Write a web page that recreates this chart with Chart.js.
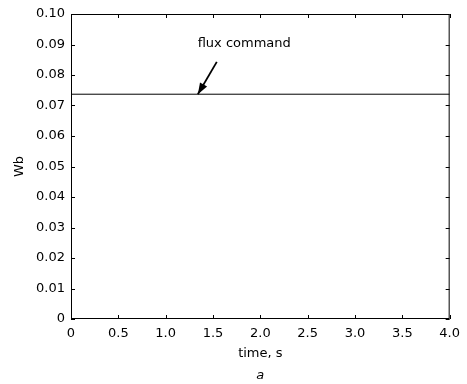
<!DOCTYPE html>
<html><head><meta charset="utf-8">
<script src="https://cdn.jsdelivr.net/npm/chart.js@4/dist/chart.umd.min.js"></script>
<style>html,body{margin:0;padding:0;background:#fff}#wrap{width:467px;height:384px}</style>
</head><body><div id="wrap"><canvas id="c" width="467" height="384"></canvas></div>
<script>
const timeS = [0, 4];
const fluxWb = [0.0737, 0.0737];
const xTicks = [0, 0.5, 1.0, 1.5, 2.0, 2.5, 3.0, 3.5, 4.0];
const yTicks = [0, 0.01, 0.02, 0.03, 0.04, 0.05, 0.06, 0.07, 0.08, 0.09, 0.10];
const annText = "flux command";
const annTextPos = [1.83, 0.0902];
const arrowTail = [1.54, 0.0843];
const arrowTip = [1.34, 0.0737];
const panelLabel = "a";

const FONT = "'DejaVu Sans', Arial, Helvetica, sans-serif";
const FS = 13;

const framePlugin = {
  id: 'frame',
  afterDraw(chart) {
    const {ctx, chartArea: a, scales: {x, y}} = chart;
    ctx.save();
    ctx.strokeStyle = '#000';
    ctx.lineWidth = 1;
    ctx.strokeRect(a.left + 0.5, a.top + 0.5, a.right - a.left - 1, a.bottom - a.top - 1);
    const tl = 4;
    ctx.beginPath();
    xTicks.forEach(v => {
      const px = Math.round(x.getPixelForValue(v)) + 0.5;
      ctx.moveTo(px, a.bottom); ctx.lineTo(px, a.bottom - tl);
      ctx.moveTo(px, a.top); ctx.lineTo(px, a.top + tl);
    });
    yTicks.forEach(v => {
      const py = Math.round(y.getPixelForValue(v)) + 0.5;
      ctx.moveTo(a.left, py); ctx.lineTo(a.left + tl, py);
      ctx.moveTo(a.right, py); ctx.lineTo(a.right - tl, py);
    });
    ctx.stroke();
    // annotation
    ctx.fillStyle = '#000';
    ctx.font = FS + 'px ' + FONT;
    ctx.textAlign = 'center';
    ctx.textBaseline = 'middle';
    ctx.fillText(annText, x.getPixelForValue(annTextPos[0]), y.getPixelForValue(annTextPos[1]));
    const x1 = x.getPixelForValue(arrowTail[0]), y1 = y.getPixelForValue(arrowTail[1]);
    const x2 = x.getPixelForValue(arrowTip[0]), y2 = y.getPixelForValue(arrowTip[1]);
    ctx.lineWidth = 1.8;
    ctx.beginPath(); ctx.moveTo(x1, y1); ctx.lineTo(x2, y2); ctx.stroke();
    const ang = Math.atan2(y2 - y1, x2 - x1);
    const L = 12, W = 0.35;
    ctx.beginPath();
    ctx.moveTo(x2, y2);
    ctx.lineTo(x2 - L * Math.cos(ang - W), y2 - L * Math.sin(ang - W));
    ctx.lineTo(x2 - L * Math.cos(ang + W), y2 - L * Math.sin(ang + W));
    ctx.closePath(); ctx.fill();
    // panel label
    ctx.font = 'italic ' + FS + 'px ' + FONT;
    ctx.fillText(panelLabel, x.getPixelForValue(2.0), 376);
    ctx.restore();
  }
};

new Chart(document.getElementById('c'), {
  type: 'line',
  data: {
    datasets: [{
      data: timeS.map((t, i) => ({x: t, y: fluxWb[i]})),
      borderColor: '#000', borderWidth: 1, pointRadius: 0, tension: 0
    }]
  },
  options: {
    responsive: false, animation: false,
    layout: {padding: {top: 14, right: 9, left: 0, bottom: 0}},
    plugins: {legend: {display: false}, tooltip: {enabled: false}},
    scales: {
      x: {
        type: 'linear', min: 0, max: 4,
        afterBuildTicks: s => { s.ticks = xTicks.map(v => ({value: v})); },
        afterFit: s => { s.height = 65; },
        grid: {display: false, drawTicks: false},
        border: {display: false},
        ticks: {color: '#000', font: {family: FONT, size: FS}, padding: 7, maxRotation: 0,
          callback: v => v === 0 ? '0' : v.toFixed(1)},
        title: {display: true, text: 'time, s', color: '#000', font: {family: FONT, size: FS}, padding: {top: 0, bottom: 23}}
      },
      y: {
        type: 'linear', min: 0, max: 0.1,
        afterBuildTicks: s => { s.ticks = yTicks.map(v => ({value: v})); },
        afterFit: s => { s.width = 71; },
        grid: {display: false, drawTicks: false},
        border: {display: false},
        ticks: {color: '#000', font: {family: FONT, size: FS}, padding: 6,
          callback: v => v === 0 ? '0' : v.toFixed(2)},
        title: {display: true, text: 'Wb', color: '#000', font: {family: FONT, size: FS}, padding: {top: 12, bottom: 0}}
      }
    }
  },
  plugins: [framePlugin]
});
</script></body></html>
